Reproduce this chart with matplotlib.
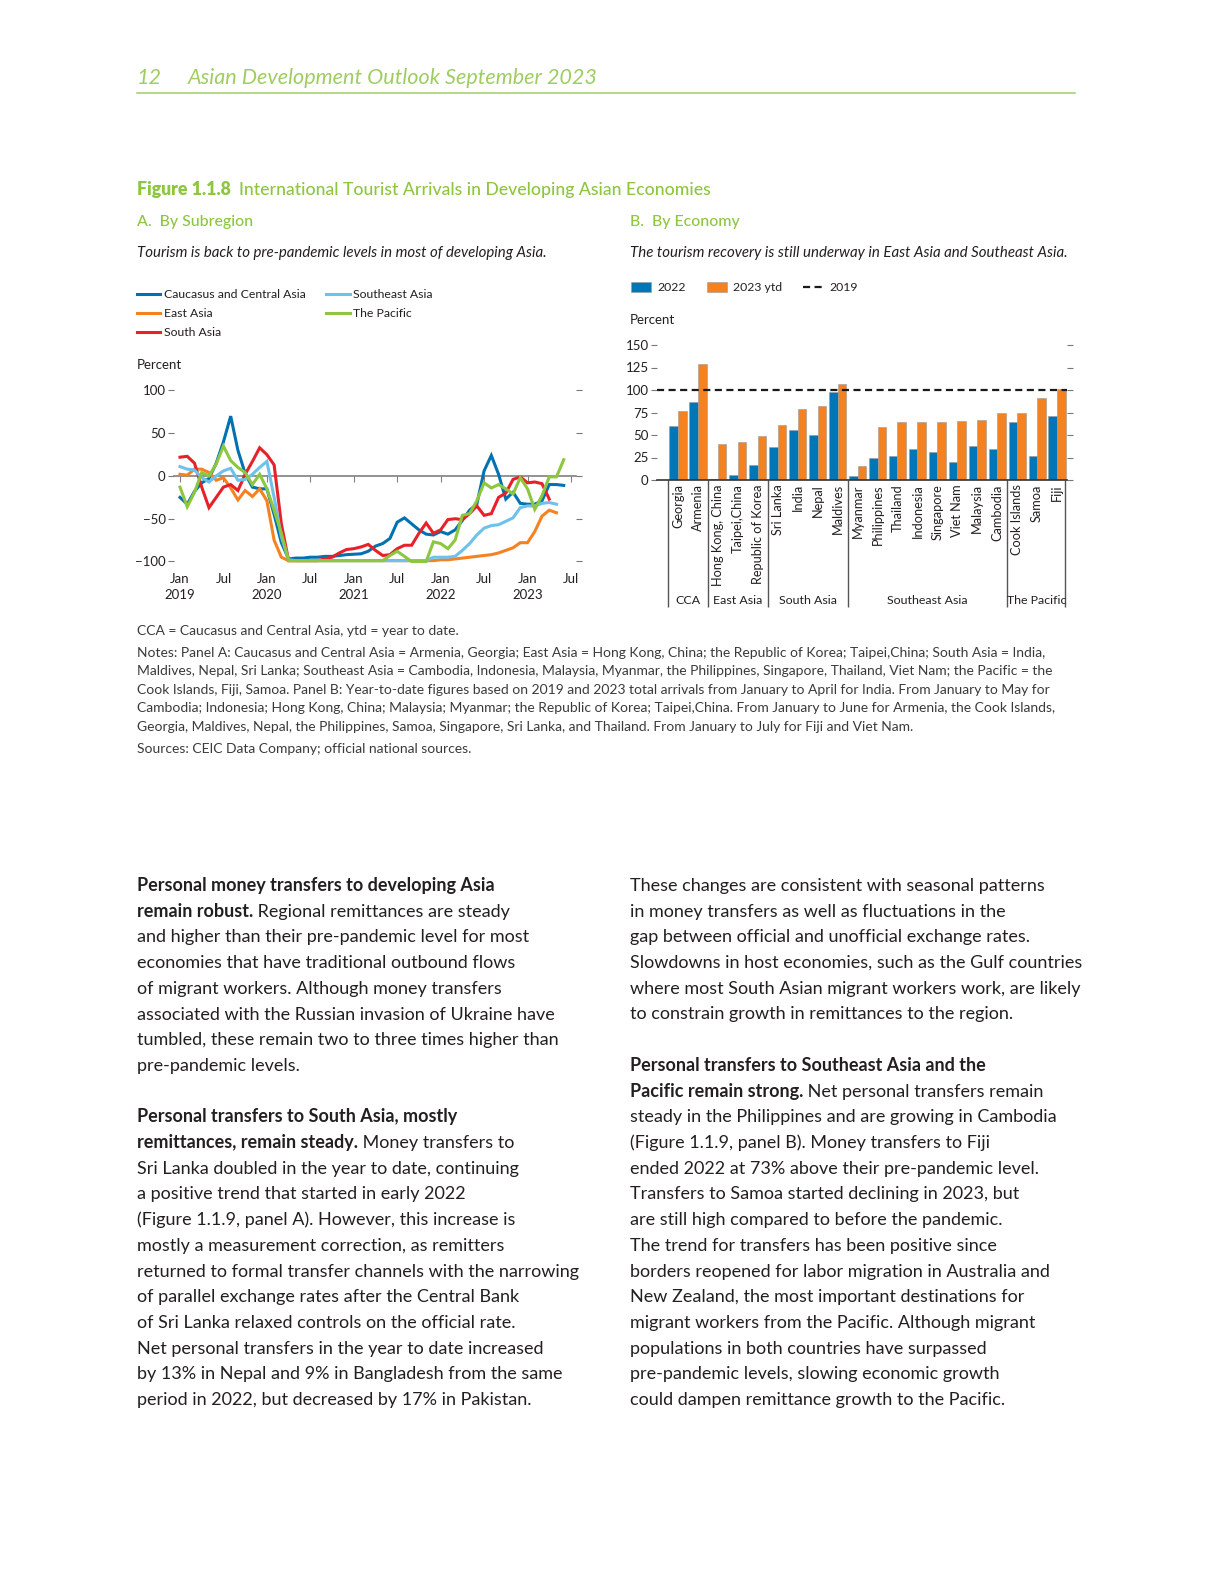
import matplotlib.pyplot as plt
import numpy as np
from matplotlib import transforms
from matplotlib.lines import Line2D

plt.rcParams['font.family'] = ['Lato', 'DejaVu Sans']

W, H = 1224, 1584

# ---------------------------------------------------------------------------
# Panel A data: monthly tourist arrivals, % change vs 2019 (from Jan 2019)
# ---------------------------------------------------------------------------
months_ticks = list(range(0, 55, 6))
month_labels = ["Jan\n2019", "Jul", "Jan\n2020", "Jul", "Jan\n2021", "Jul",
                "Jan\n2022", "Jul", "Jan\n2023", "Jul"]

cca = [-25, -33, -18, -8, -3, 15, 40, 70, 30, 3, -13, -15,
       -15, -45, -78, -97, -96, -96, -95, -95, -94, -94, -93, -92,
       -91.5, -91, -88, -82, -79, -73, -54, -49, -56, -63, -68, -69,
       -65, -68, -63, -52, -40, -33, 6, 24, 2, -27, -19, -32,
       -33, -33, -29, -10, -10, -11]
east_asia = [2, 1, 8, 8, 4, -5, -2, -14, -28, -17, -24, -15,
             -29, -75, -95, -99, -99, -99, -99, -99, -99, -99, -99, -99,
             -99, -99, -99, -99, -99, -99, -99, -99, -99, -99, -99, -99,
             -98, -98, -97, -96, -95, -94, -93, -92, -90, -87, -84, -78,
             -78, -65, -47, -40, -43]
south_asia = [22, 23, 15, -13, -37, -25, -13, -10, -17, 2, 17, 33,
              25, 13, -56, -99, -99, -99, -99, -99, -97, -95, -90, -86,
              -85, -83, -80, -87, -93, -92, -85, -81, -81, -67, -55, -67,
              -63, -51, -50, -51, -44, -35, -46, -44, -25, -20, -4, -1,
              -8, -7, -9, -27]
southeast_asia = [11, 8, 7, -2, -7, 0, 6, 9, -5, -4, 2, 10,
                  17, -25, -71, -98, -99, -99, -99, -99, -99, -99, -99, -99,
                  -99, -99, -99, -99, -99, -99, -99, -99, -99, -99, -99, -95,
                  -95, -95, -94, -87, -79, -69, -61, -58, -57, -53, -49, -37,
                  -35, -35, -32, -31, -33]
pacific = [-13, -36, -19, 4, 0, 14, 35, 18, 10, 4, -10, 2,
           -15, -40, -67, -99, -99, -99, -99, -99, -99, -99, -99, -99,
           -99, -99, -99, -99, -99, -93, -88, -94, -100, -100, -100, -77,
           -79, -85, -75, -46, -44, -29, -8, -14, -10, -15, -21, -2,
           -15, -39, -23, -1, -1, 19]

series_names = ["Caucasus and Central Asia", "East Asia", "South Asia",
                "Southeast Asia", "The Pacific"]
series_values = [cca, east_asia, south_asia, southeast_asia, pacific]
series_colors = ["#0072B2", "#F58220", "#E8202A", "#6EC1EA", "#8DC63F"]

# ---------------------------------------------------------------------------
# Panel B data: arrivals as % of 2019 level
# ---------------------------------------------------------------------------
economies = ["Georgia", "Armenia", "Hong Kong, China", "Taipei,China",
             "Republic of Korea", "Sri Lanka", "India", "Nepal", "Maldives",
             "Myanmar", "Philippines", "Thailand", "Indonesia", "Singapore",
             "Viet Nam", "Malaysia", "Cambodia", "Cook Islands", "Samoa", "Fiji"]
pct_2022 = [60, 87, 1.5, 6, 17, 37, 56, 50, 98, 4, 24, 27, 34, 31, 20, 38,
            34, 65, 27, 71]
pct_2023ytd = [77, 129, 40, 42, 49, 61, 79, 82, 107, 16, 59, 64, 64, 65, 66,
               67, 74, 75, 91, 101]
groups = ["CCA", "East Asia", "South Asia", "Southeast Asia", "The Pacific"]
group_sizes = [2, 3, 4, 8, 3]
level_2019 = 100

# ---------------------------------------------------------------------------
GREEN = "#8DC63F"
HEAD_GREEN = "#9FCD62"
TXT = "#231F20"
BLUE = "#0076B6"
ORANGE = "#F58220"


def fx(x):
    return x / W


def fy(y):
    return 1 - y / H


fig = plt.figure(figsize=(W / 100, H / 100), dpi=100)
fig.patch.set_facecolor("white")
renderer = fig.canvas.get_renderer()


def rich_line(x, y, parts, size=12, color=TXT):
    """Draw a line made of (text, weight) pieces, one after the other."""
    cur = fx(x)
    for text, weight in parts:
        t = fig.text(cur, fy(y), text, fontsize=size, fontweight=weight,
                     color=color, va="baseline", ha="left")
        bb = t.get_window_extent(renderer)
        cur = bb.x1 / W


# header
fig.text(fx(137), fy(84), "12", color=HEAD_GREEN, fontsize=15.6, style="italic",
         va="baseline")
fig.text(fx(188), fy(84), "Asian Development Outlook September 2023",
         color=HEAD_GREEN, fontsize=15.6, style="italic", va="baseline")
fig.add_artist(Line2D([fx(137), fx(1075)], [fy(93), fy(93)], color=HEAD_GREEN, lw=1.1))

# figure title
rich_line(137, 195, [("Figure 1.1.8  ", "heavy"),
                     ("International Tourist Arrivals in Developing Asian Economies", "medium")],
          size=12.7, color=GREEN)
fig.text(fx(137), fy(226), "A.  By Subregion", color=GREEN, fontsize=11.4,
         fontweight="medium", va="baseline")
fig.text(fx(630), fy(226), "B.  By Economy", color=GREEN, fontsize=11.4,
         fontweight="medium", va="baseline")
fig.text(fx(137), fy(257), "Tourism is back to pre-pandemic levels in most of developing Asia.",
         color=TXT, fontsize=10.8, style="italic", va="baseline")
fig.text(fx(630), fy(257), "The tourism recovery is still underway in East Asia and Southeast Asia.",
         color=TXT, fontsize=10.8, style="italic", va="baseline")

# ---------------------------------------------------------------------------
# Panel A
# ---------------------------------------------------------------------------
x0_px, px_per_month = 180, 7.24
zero_px, px_per_unit = 476, 0.855
ylo, yhi = -104, 104
xlo, xhi = -0.83, 54.7
axA = fig.add_axes([fx(x0_px + xlo * px_per_month),
                    fy(zero_px - ylo * px_per_unit),
                    (xhi - xlo) * px_per_month / W,
                    (yhi - ylo) * px_per_unit / H])
lines = []
for name, vals, col in zip(series_names, series_values, series_colors):
    ln, = axA.plot(np.arange(len(vals)), vals, color=col, lw=2.2, label=name,
                   zorder=3, solid_joinstyle="miter")
    lines.append(ln)
axA.set_xlim(xlo, xhi)
axA.set_ylim(ylo, yhi)
axA.set_yticks([-100, -50, 0, 50, 100])
axA.set_yticklabels(["\u2212100", "\u221250", "0", "50", "100"])
axA.tick_params(axis="y", left=True, right=True, direction="out", length=4,
                width=0.8, color="#777777", labelsize=9.5, labelcolor=TXT, pad=2)
for s in ["top", "left", "right"]:
    axA.spines[s].set_visible(False)
axA.spines["bottom"].set_position(("data", 0))
axA.spines["bottom"].set_color("#808080")
axA.spines["bottom"].set_linewidth(1.2)
axA.set_xticks(months_ticks)
axA.tick_params(axis="x", direction="out", length=4, width=0.8, color="#808080",
                labelbottom=False)
secA = axA.secondary_xaxis("bottom")
secA.set_xticks(months_ticks)
secA.set_xticklabels(month_labels)
secA.tick_params(length=0, labelsize=9.5, labelcolor=TXT, pad=5.5)
secA.spines["bottom"].set_visible(False)
for lab in secA.get_xticklabels():
    lab.set_linespacing(1.45)

fig.text(fx(137), fy(369), "Percent", fontsize=9.5, color=TXT, va="baseline")
fig.legend(handles=lines, labels=series_names, loc="upper left",
           bbox_to_anchor=(fx(137), fy(289)), ncol=2, frameon=False,
           fontsize=8.8, handlelength=1.9, handletextpad=0.3,
           columnspacing=1.7, labelspacing=0.66, borderpad=0, borderaxespad=0,
           labelcolor=TXT)

# ---------------------------------------------------------------------------
# Panel B
# ---------------------------------------------------------------------------
xpos = np.arange(len(economies))
b_x0_px, b_px_per_bar = 678, 19.95
b_zero_px, b_px_per_unit = 480, 0.9
bxlo, bxhi = -1.05, 19.5
axB = fig.add_axes([fx(b_x0_px + bxlo * b_px_per_bar), fy(b_zero_px),
                    (bxhi - bxlo) * b_px_per_bar / W,
                    150 * b_px_per_unit / H])
bw = 0.43
bars22 = axB.bar(xpos - bw / 2, pct_2022, width=bw, color=BLUE,
                 edgecolor="#9a9a9a", linewidth=0.4, label="2022", zorder=2)
bars23 = axB.bar(xpos + bw / 2, pct_2023ytd, width=bw, color=ORANGE,
                 edgecolor="#9a9a9a", linewidth=0.4, label="2023 ytd", zorder=2)
ref = axB.axhline(level_2019, color="#1a1a1a", lw=1.6, dashes=(3.2, 2.0),
                  label="2019", zorder=3)
axB.set_xlim(bxlo, bxhi)
axB.set_ylim(0, 150)
axB.set_yticks(np.arange(0, 151, 25))
axB.tick_params(axis="y", left=True, right=True, direction="out", length=4,
                width=0.8, color="#777777", labelsize=9.5, labelcolor=TXT, pad=2)
axB.set_xticks(xpos)
axB.set_xticklabels(economies, rotation=90)
axB.tick_params(axis="x", length=0, labelsize=9.2, labelcolor=TXT, pad=3)
for s in ["top", "left", "right"]:
    axB.spines[s].set_visible(False)
axB.spines["bottom"].set_color("#333333")
axB.spines["bottom"].set_linewidth(1.2)
axB.spines["bottom"].set_zorder(4)

trans = transforms.blended_transform_factory(axB.transData, axB.transAxes)
axes_h_px = 150 * b_px_per_unit
edges = np.concatenate([[0], np.cumsum(group_sizes)]) - 0.5
edges[-1] = len(economies) - 0.6
sep_bottom = -(607 - b_zero_px) / axes_h_px
axB.vlines(edges, sep_bottom, 0, transform=trans, color="#555555", lw=1.0,
           clip_on=False)
starts = np.concatenate([[0], np.cumsum(group_sizes)[:-1]])
for g, st, n in zip(groups, starts, group_sizes):
    mid = st + (n - 1) / 2
    axB.text(mid, -(600 - b_zero_px) / axes_h_px, g,
             transform=trans, ha="center", va="center", fontsize=8.9, color=TXT)

fig.text(fx(630), fy(324), "Percent", fontsize=9.5, color=TXT, va="baseline")
fig.legend(handles=[bars22, bars23, ref], labels=["2022", "2023 ytd", "2019"],
           loc="upper left", bbox_to_anchor=(fx(631), fy(282)), ncol=3,
           frameon=False, fontsize=8.8, handlelength=1.64, handleheight=0.82,
           handletextpad=0.5, columnspacing=1.72, borderpad=0, borderaxespad=0,
           labelcolor=TXT)

# ---------------------------------------------------------------------------
# notes
# ---------------------------------------------------------------------------
notes = [
    "CCA = Caucasus and Central Asia, ytd = year to date.",
    "Notes: Panel A: Caucasus and Central Asia = Armenia, Georgia; East Asia = Hong Kong, China; the Republic of Korea; Taipei,China; South Asia = India,",
    "Maldives, Nepal, Sri Lanka; Southeast Asia = Cambodia, Indonesia, Malaysia, Myanmar, the Philippines, Singapore, Thailand, Viet Nam; the Pacific = the",
    "Cook Islands, Fiji, Samoa. Panel B: Year-to-date figures based on 2019 and 2023 total arrivals from January to April for India. From January to May for",
    "Cambodia; Indonesia; Hong Kong, China; Malaysia; Myanmar; the Republic of Korea; Taipei,China. From January to June for Armenia, the Cook Islands,",
    "Georgia, Maldives, Nepal, the Philippines, Samoa, Singapore, Sri Lanka, and Thailand. From January to July for Fiji and Viet Nam.",
    "Sources: CEIC Data Company; official national sources.",
]
note_y = [635, 657, 675, 694, 712, 731, 753]
for t, y in zip(notes, note_y):
    fig.text(fx(137), fy(y), t, fontsize=10, color="#3a3a3a", va="baseline")

# ---------------------------------------------------------------------------
# body text
# ---------------------------------------------------------------------------
B, N = "bold", "normal"
left_col = [
    [("Personal money transfers to developing Asia", B)],
    [("remain robust.", B), (" Regional remittances are steady", N)],
    [("and higher than their pre-pandemic level for most", N)],
    [("economies that have traditional outbound flows", N)],
    [("of migrant workers. Although money transfers", N)],
    [("associated with the Russian invasion of Ukraine have", N)],
    [("tumbled, these remain two to three times higher than", N)],
    [("pre-pandemic levels.", N)],
    None,
    [("Personal transfers to South Asia, mostly", B)],
    [("remittances, remain steady.", B), (" Money transfers to", N)],
    [("Sri Lanka doubled in the year to date, continuing", N)],
    [("a positive trend that started in early 2022", N)],
    [("(Figure 1.1.9, panel A). However, this increase is", N)],
    [("mostly a measurement correction, as remitters", N)],
    [("returned to formal transfer channels with the narrowing", N)],
    [("of parallel exchange rates after the Central Bank", N)],
    [("of Sri Lanka relaxed controls on the official rate.", N)],
    [("Net personal transfers in the year to date increased", N)],
    [("by 13% in Nepal and 9% in Bangladesh from the same", N)],
    [("period in 2022, but decreased by 17% in Pakistan.", N)],
]
right_col = [
    [("These changes are consistent with seasonal patterns", N)],
    [("in money transfers as well as fluctuations in the", N)],
    [("gap between official and unofficial exchange rates.", N)],
    [("Slowdowns in host economies, such as the Gulf countries", N)],
    [("where most South Asian migrant workers work, are likely", N)],
    [("to constrain growth in remittances to the region.", N)],
    None,
    [("Personal transfers to Southeast Asia and the", B)],
    [("Pacific remain strong.", B), (" Net personal transfers remain", N)],
    [("steady in the Philippines and are growing in Cambodia", N)],
    [("(Figure 1.1.9, panel B). Money transfers to Fiji", N)],
    [("ended 2022 at 73% above their pre-pandemic level.", N)],
    [("Transfers to Samoa started declining in 2023, but", N)],
    [("are still high compared to before the pandemic.", N)],
    [("The trend for transfers has been positive since", N)],
    [("borders reopened for labor migration in Australia and", N)],
    [("New Zealand, the most important destinations for", N)],
    [("migrant workers from the Pacific. Although migrant", N)],
    [("populations in both countries have surpassed", N)],
    [("pre-pandemic levels, slowing economic growth", N)],
    [("could dampen remittance growth to the Pacific.", N)],
]
for col_x, col in [(137, left_col), (630, right_col)]:
    for k, parts in enumerate(col):
        if parts is None:
            continue
        rich_line(col_x, 891 + 25.7 * k, parts, size=13)

fig.savefig("out.png", dpi=100, facecolor="white")
